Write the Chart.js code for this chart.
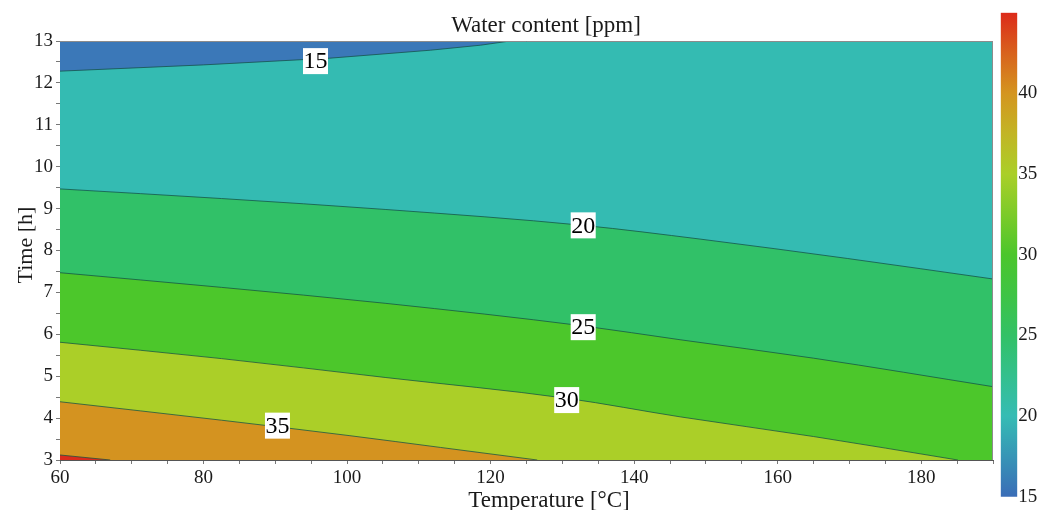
<!DOCTYPE html>
<html><head><meta charset="utf-8">
<script src="https://cdn.jsdelivr.net/npm/chart.js@4.4.1/dist/chart.umd.min.js"></script>
<style>
html,body{margin:0;padding:0;background:#fff;}
#wrap{position:relative;width:1052px;height:510px;overflow:hidden;}
#main{position:absolute;left:0;top:0;}
#cbar{position:absolute;left:960px;top:0;}
</style></head><body>
<div id="wrap"><canvas id="main" width="1052" height="510"></canvas><canvas id="cbar" width="92" height="510"></canvas></div>
<script>
// ---------- data ----------
const chartTitle = 'Water content [ppm]';
const xTitle = 'Temperature [°C]';
const yTitle = 'Time [h]';
const tempRange = [60, 190];
const timeRange = [3, 13];
const xTickLabels = [60, 80, 100, 120, 140, 160, 180];
const yTickLabels = [3, 4, 5, 6, 7, 8, 9, 10, 11, 12, 13];
const contourLevels = [15, 20, 25, 30, 35, 40];
// contour lines: [temperature, time]
const line15 = [[60,12.28],[80,12.43],[97.6,12.59],[111.6,12.78],[118.6,12.9],[122.7,13.0],[190,13.0]];
const line20 = [[60,9.47],[82.5,9.24],[105.3,8.98],[132.9,8.60],[149.3,8.27],[169.7,7.81],[190,7.32]];
const line25 = [[60,7.47],[82.5,7.12],[105.3,6.74],[132.9,6.20],[146.4,5.87],[165,5.43],[190,4.75]];
const line30 = [[60,5.81],[82.5,5.42],[105.3,4.97],[130.7,4.47],[146.4,4.03],[165,3.56],[185.1,3.0]];
const line35 = [[60,4.39],[82.5,3.95],[100.4,3.58],[113,3.30],[126.5,3.0]];
const line40 = [[60,3.12],[67,3.0]];
const labelLevels = [15, 20, 25, 30, 35];
const labelTemp = [95.6, 132.9, 132.9, 130.6, 90.3];
const labelTime = [12.52, 8.60, 6.17, 4.43, 3.82];
const colorbarRange = [15, 45];
const colorbarTicks = [15, 20, 25, 30, 35, 40];

// ---------- styles ----------
const FONT = "'Liberation Serif', 'Times New Roman', serif";
const textColor = '#1a1a1a';
const topColor = '#3b78b8';
const bandColors = ['#34bbb2', '#31c168', '#4cc72b', '#abcf28', '#d49320', '#da2b1b'];
const lineColor = 'rgba(20,80,70,0.75)';
const cbStops = [[15,'#3a6db7'],[17.5,'#3795b6'],[20,'#35bcb4'],[22.5,'#33c08d'],[25,'#32c166'],[27.5,'#3ec445'],[30,'#4bc62b'],[32.5,'#7ccb29'],[35,'#aacf28'],[37.5,'#c2b524'],[40,'#d4951f'],[42.5,'#d8621d'],[45,'#dc2a1a']];

const toPts = a => a.map(p => ({x: p[0], y: p[1]}));
const lines = [line15, line20, line25, line30, line35, line40];

const datasets = [{
  data: toPts([[tempRange[0], timeRange[1]], [tempRange[1], timeRange[1]]]),
  showLine: true, fill: 'start', backgroundColor: topColor, borderWidth: 0, pointRadius: 0, order: 10
}];
lines.forEach((l, i) => datasets.push({
  label: String(contourLevels[i]),
  data: toPts(l), showLine: true, fill: 'start',
  backgroundColor: bandColors[i], borderColor: lineColor, borderWidth: 1,
  pointRadius: 0, tension: 0, cubicInterpolationMode: i === 0 ? 'default' : 'monotone',
  order: 8 - i
}));

const overlay = {
  id: 'overlay',
  afterDatasetsDraw(chart) {
    const {ctx, chartArea: a, scales} = chart;
    ctx.save();
    ctx.strokeStyle = '#8c8c8c';
    ctx.lineWidth = 1;
    ctx.beginPath();
    ctx.moveTo(a.left, a.top + 0.5); ctx.lineTo(a.right, a.top + 0.5);
    ctx.moveTo(a.right - 0.5, a.top); ctx.lineTo(a.right - 0.5, a.bottom);
    ctx.stroke();
    ctx.font = '24px ' + FONT;
    ctx.textAlign = 'center';
    ctx.textBaseline = 'middle';
    labelLevels.forEach((lv, i) => {
      const px = scales.x.getPixelForValue(labelTemp[i]);
      const py = scales.y.getPixelForValue(labelTime[i]);
      const s = String(lv);
      const w = ctx.measureText(s).width + 1;
      const h = 26;
      ctx.fillStyle = '#fff';
      ctx.fillRect(px - w / 2, py - h / 2, w, h);
      ctx.fillStyle = '#000';
      ctx.fillText(s, px, py + 1);
    });
    ctx.restore();
  },
  afterDraw(chart) {
    const {ctx} = chart;
    ctx.save();
    ctx.fillStyle = textColor;
    ctx.textAlign = 'center';
    ctx.textBaseline = 'alphabetic';
    ctx.font = '23px ' + FONT;
    ctx.fillText(chartTitle, 546, 32);
    ctx.font = '23px ' + FONT;
    ctx.fillText(xTitle, 549, 507);
    ctx.font = '22px ' + FONT;
    ctx.translate(31.5, 245);
    ctx.rotate(-Math.PI / 2);
    ctx.fillText(yTitle, 0, 0);
    ctx.restore();
  }
};

new Chart(document.getElementById('main'), {
  type: 'scatter',
  data: {datasets},
  options: {
    responsive: false, animation: false, events: [],
    layout: {padding: {top: 41, right: 59, left: 0, bottom: 0}},
    plugins: {legend: {display: false}, tooltip: {enabled: false}, title: {display: false}},
    scales: {
      x: {
        type: 'linear', min: tempRange[0], max: tempRange[1], z: 1,
        ticks: {stepSize: 5, autoSkip: false, maxRotation: 0, padding: 3,
          color: textColor, font: {family: FONT, size: 19},
          callback: v => xTickLabels.includes(v) ? String(v) : ''},
        grid: {drawOnChartArea: false, tickLength: 4, color: '#777'},
        border: {color: '#555'},
        afterFit: s => { s.height = 50; }
      },
      y: {
        type: 'linear', min: timeRange[0], max: timeRange[1], z: 1,
        ticks: {stepSize: 0.5, autoSkip: false, padding: 3,
          color: textColor, font: {family: FONT, size: 19},
          callback: v => yTickLabels.includes(v) ? String(v) : ''},
        grid: {drawOnChartArea: false, tickLength: 4, color: '#777'},
        border: {color: '#555'},
        afterFit: s => { s.width = 60; }
      }
    }
  },
  plugins: [overlay]
});

new Chart(document.getElementById('cbar'), {
  type: 'bar',
  data: {labels: [''], datasets: [{
    data: [colorbarRange],
    backgroundColor: c => {
      const a = c.chart.chartArea;
      if (!a) return cbStops[0][1];
      const g = c.chart.ctx.createLinearGradient(0, a.bottom, 0, a.top);
      const lo = colorbarRange[0], hi = colorbarRange[1];
      cbStops.forEach(s => g.addColorStop((s[0] - lo) / (hi - lo), s[1]));
      return g;
    },
    borderWidth: 0, barPercentage: 1, categoryPercentage: 1
  }]},
  options: {
    responsive: false, animation: false, events: [],
    layout: {padding: {top: 12.7, bottom: 13.3, left: 40.7, right: 0}},
    plugins: {legend: {display: false}, tooltip: {enabled: false}},
    scales: {
      x: {display: false},
      y: {position: 'right', min: colorbarRange[0], max: colorbarRange[1],
        ticks: {stepSize: 5, padding: 1, color: textColor, font: {family: FONT, size: 19},
          callback: v => colorbarTicks.includes(v) ? String(v) : ''},
        grid: {display: false, drawTicks: false},
        border: {display: false},
        afterFit: s => { s.width = 34.7; }
      }
    }
  }
});
</script>
</body></html>
